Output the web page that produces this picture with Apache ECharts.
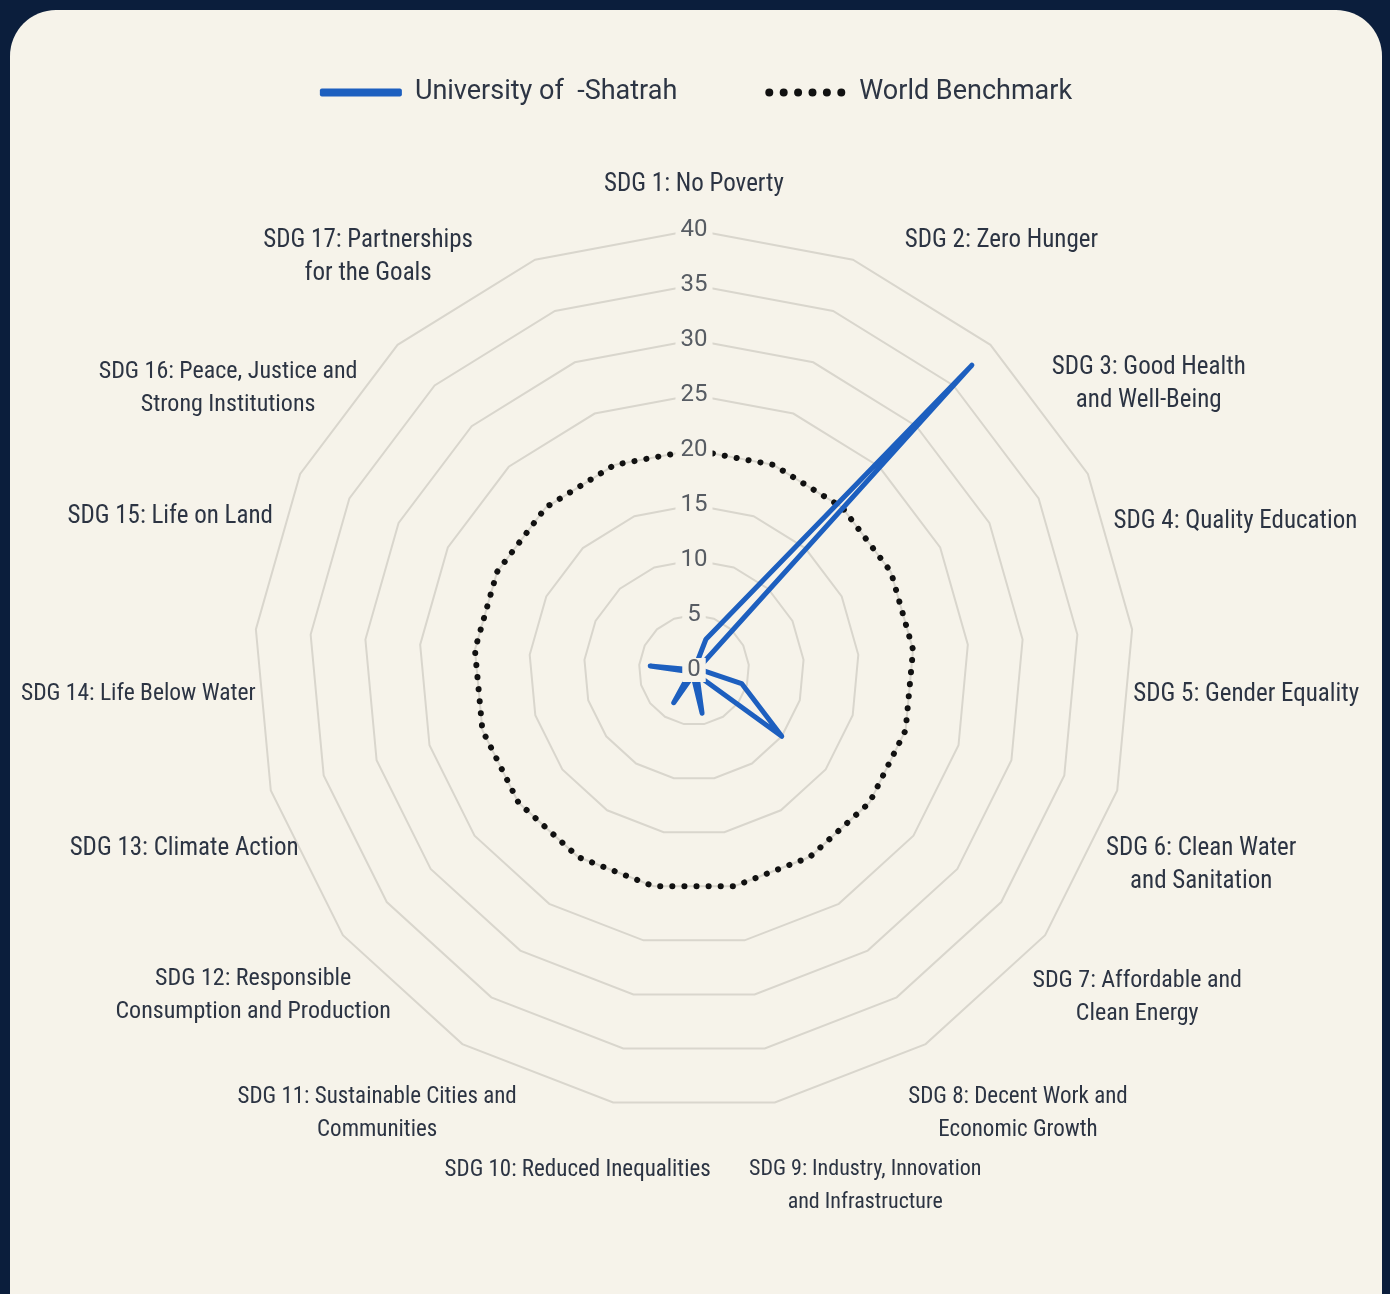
<!DOCTYPE html>
<html><head><meta charset="utf-8">
<script src="https://cdn.jsdelivr.net/npm/echarts@6/dist/echarts.min.js"></script>
<style>
html,body{margin:0;padding:0;background:#0b1e3c;width:1390px;height:1294px;overflow:hidden}
#card{position:absolute;left:10px;top:10px;width:1372px;height:1330px;background:#f6f3ea;border-radius:46px;overflow:hidden}
#chart{width:1372px;height:1330px}
</style></head><body>
<div id="card"><div id="chart"></div></div>
<script>
const categories = [
  'SDG 1: No Poverty',
  'SDG 2: Zero Hunger',
  'SDG 3: Good Health\nand Well-Being',
  'SDG 4: Quality Education',
  'SDG 5: Gender Equality',
  'SDG 6: Clean Water\nand Sanitation',
  'SDG 7: Affordable and\nClean Energy',
  'SDG 8: Decent Work and\nEconomic Growth',
  'SDG 9: Industry, Innovation\nand Infrastructure',
  'SDG 10: Reduced Inequalities',
  'SDG 11: Sustainable Cities and\nCommunities',
  'SDG 12: Responsible\nConsumption and Production',
  'SDG 13: Climate Action',
  'SDG 14: Life Below Water',
  'SDG 15: Life on Land',
  'SDG 16: Peace, Justice and\nStrong Institutions',
  'SDG 17: Partnerships\nfor the Goals'
];
const seriesNames = ['University of  -Shatrah', 'World Benchmark'];
const universityValues = [0, 3, 37.5, 0.5, 0.5, 4.5, 10, 0.5, 4, 0.5, 3.5, 0.5, 0.5, 4, 0, 0, 0];
const benchmarkValues  = [20, 20, 20, 20, 20, 20, 20, 20, 20, 20, 20, 20, 20, 20, 20, 20, 20];
const axisMax = 40;
const tickStep = 5;

// axis-name layout (styling only): turn of the name away from its axis (deg),
// distance of the name from the centre (px) and font size
const labelTurn  = [0, -5, -9, -7, -8.5, -9.5, -7, -6, -4.5, 12.5, 10, 10, 8.5, 8.5, 6.5, 7.7, 7];
const labelReach = [469, 478, 458, 445, 440, 456, 471, 493, 519, 501, 478, 445, 434, 439, 448, 439, 468];
const labelSize  = [25, 25, 25, 25, 25, 25, 24, 23, 22, 23, 23, 24, 25, 23.5, 25, 24, 25];

const cardBg = '#f6f3ea';
const nameFont = "'Roboto Condensed', 'Open Sans', 'DejaVu Sans Condensed', sans-serif";
const N = categories.length;
const R = 440;

// ECharts radar runs counter-clockwise: reorder so the SDGs run clockwise from the top
const order = [0].concat(categories.map((_, i) => N - 1 - i).slice(0, N - 1));
const pick = arr => order.map(i => arr[i]);
const orderedNames = pick(categories);

function dotsPath(n) {
  let p = '';
  for (let i = 0; i < n; i++) {
    const cx = 0.5 + i * 1.8;
    p += 'M' + (cx - 0.5) + ',0.5 a0.5,0.5 0 1,0 1,0 a0.5,0.5 0 1,0 -1,0 Z ';
  }
  return 'path://' + p;
}

const geom = { center: [684, 660], radius: R, shape: 'polygon', splitNumber: axisMax / tickStep };
const bare = {
  axisLine: { show: false }, axisTick: { show: false },
  splitArea: { show: false }, splitLine: { show: false }
};

// one name-only radar per SDG label
function nameRadar(k) {
  const pos = order.indexOf(k);
  const axisCos = Math.cos((90 - k * 360 / N) * Math.PI / 180);
  const align = axisCos > 0.01 ? 'left' : (axisCos < -0.01 ? 'right' : undefined);
  const nameOpt = {
    color: '#2c3443', fontFamily: nameFont, fontSize: labelSize[k], fontWeight: 'condensed',
    formatter: v => v ? v.split('\n').map(l => '{n|' + l + '}').join('\n') : '',
    rich: {
      n: { align: 'center', color: '#2c3443', fontFamily: nameFont, fontWeight: 'condensed',
           fontSize: labelSize[k], lineHeight: 33 }
    }
  };
  if (align) nameOpt.align = align;
  return Object.assign({}, geom, bare, {
    startAngle: 90 + labelTurn[k],
    nameGap: labelReach[k] - R,
    indicator: orderedNames.map((c, i) => ({ name: i === pos ? c : '', min: 0, max: axisMax })),
    axisLabel: { show: false },
    axisName: nameOpt
  });
}

const radars = [
  // 0: rings and data
  Object.assign({}, geom, {
    startAngle: 90,
    indicator: orderedNames.map(c => ({ name: c, min: 0, max: axisMax })),
    axisName: { show: false },
    axisLine: { show: false },
    axisTick: { show: false },
    axisLabel: { show: false },
    splitArea: { show: false },
    splitLine: { lineStyle: { color: '#d9d6cd', width: 2 } }
  }),
  // 1: tick labels on the first axis
  Object.assign({}, geom, bare, {
    z: 10,
    startAngle: 90,
    indicator: orderedNames.map((c, i) => ({ name: '', min: 0, max: axisMax, axisLabel: { show: i === 0 } })),
    axisName: { show: false },
    axisLabel: {
      show: false, margin: 0, align: 'center', verticalAlign: 'middle',
      fontSize: 24, color: '#575c63', fontFamily: 'Roboto, sans-serif',
      backgroundColor: cardBg, padding: [0, 5]
    }
  })
].concat(categories.map((_, k) => nameRadar(k)));

const chart = echarts.init(document.getElementById('chart'));
chart.setOption({
  backgroundColor: 'transparent',
  legend: {
    top: 64,
    left: 'center',
    itemGap: 88,
    itemWidth: 82,
    itemHeight: 8,
    textStyle: { fontSize: 27, color: '#2d3544', fontFamily: 'Roboto, sans-serif', padding: [0, 0, 0, 8] },
    data: [
      { name: seriesNames[0], icon: 'roundRect' },
      { name: seriesNames[1], icon: dotsPath(6), itemStyle: { color: '#111', borderWidth: 0 } }
    ]
  },
  radar: radars,
  series: [
    {
      type: 'radar', radarIndex: 0, name: seriesNames[1], z: 2,
      symbol: 'none',
      data: [{ name: seriesNames[1], value: pick(benchmarkValues) }],
      itemStyle: { color: '#111' },
      lineStyle: { color: '#111', width: 6, type: [0.1, 12], cap: 'round' }
    },
    {
      type: 'radar', radarIndex: 0, name: seriesNames[0], z: 3,
      symbol: 'none',
      data: [{ name: seriesNames[0], value: pick(universityValues) }],
      itemStyle: { color: '#1d5fbf' },
      lineStyle: { color: '#1d5fbf', width: 5, join: 'round', cap: 'round' }
    }
  ]
});
</script>
</body></html>
